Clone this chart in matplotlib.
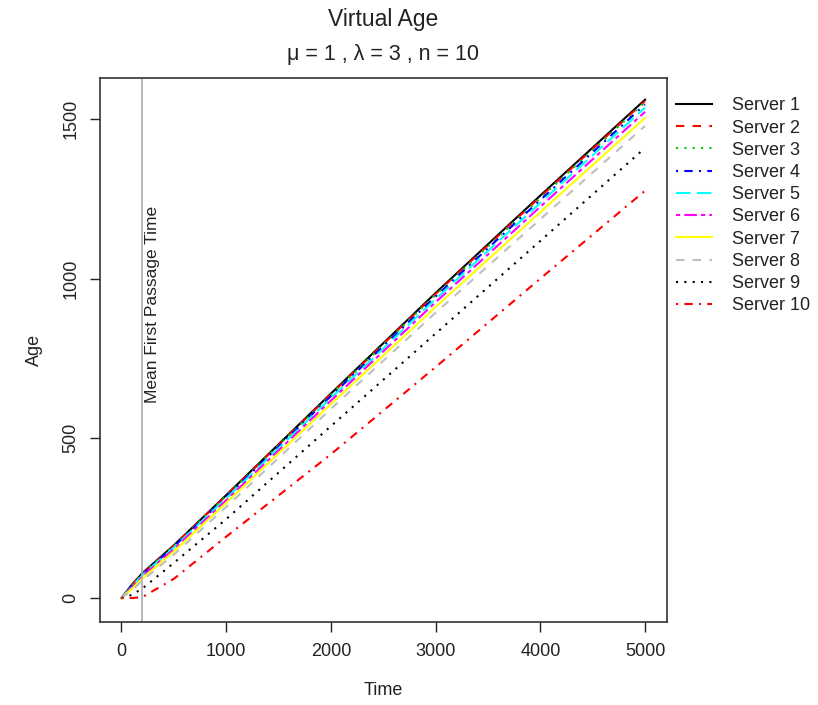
import matplotlib.pyplot as plt
import numpy as np

plt.rcParams['font.family'] = ['Liberation Sans', 'DejaVu Sans']

# values
time = [0, 100, 200, 500, 1000, 2000, 3000, 4000, 5000]
age_s1 = [0, 42, 78, 165, 322, 640, 955, 1260, 1560]
age_s2 = [0, 41, 77, 164, 321, 638, 952, 1256, 1556]
age_s3 = [0, 40, 76, 163, 319, 636, 949, 1252, 1552]
age_s4 = [0, 38, 74, 161, 316, 632, 944, 1246, 1545]
age_s5 = [0, 36, 72, 158, 312, 626, 936, 1237, 1535]
age_s6 = [0, 33, 68, 153, 306, 618, 926, 1225, 1522]
age_s7 = [0, 29, 62, 146, 298, 607, 911, 1208, 1503]
age_s8 = [0, 24, 55, 136, 285, 592, 893, 1186, 1478]
age_s9 = [0, 10, 30, 110, 247, 538, 828, 1118, 1409]
age_s10 = [0, 0, 3, 60, 192, 450, 723, 1000, 1275]
mean_first_passage = 200

servers = ["Server %d" % i for i in range(1, 11)]
ages = [age_s1, age_s2, age_s3, age_s4, age_s5, age_s6, age_s7, age_s8, age_s9, age_s10]

# R default palette and lty cycle
cols = ["black", "#FF0000", "#00CD00", "#0000FF", "#00FFFF", "#FF00FF",
        "#FFFF00", "#BEBEBE", "black", "#FF0000"]
ltys = ["-", (0, (4, 4)), (0, (1, 3)), (0, (1, 3, 4, 3)), (0, (7, 3)),
        (0, (2, 2, 6, 2)), "-", (0, (4, 4)), (0, (1, 3)), (0, (1, 3, 4, 3))]

fig = plt.figure(figsize=(8.18, 7.05), dpi=100)
ax = fig.add_axes([0.1222, 0.1177, 0.6926, 0.7717])

for a, c, ls, lab in zip(ages, cols, ltys, servers):
    ax.plot(time, a, color=c, linestyle=ls, lw=1.5, label=lab)

ax.axvline(mean_first_passage, color="#aaaaaa", lw=1.2)
ax.text(mean_first_passage + 100, 918, "Mean First Passage Time", rotation=90,
        ha="center", va="center", fontsize=12.5, color="#222222")

ax.set_xlim(-205, 5205)
ax.set_ylim(-75, 1628)
ax.set_xticks([0, 1000, 2000, 3000, 4000, 5000])
ax.set_yticks([0, 500, 1000, 1500])
ax.tick_params(labelsize=13, length=7, width=1, colors="#222222", pad=8)
for lbl in ax.get_yticklabels():
    lbl.set_rotation(90)
    lbl.set_va("center")
for sp in ax.spines.values():
    sp.set_linewidth(1.2)
    sp.set_color("#333333")

ax.set_xlabel("Time", fontsize=13, labelpad=16, color="#222222")
ax.set_ylabel("Age", fontsize=13, labelpad=14, color="#222222")

fig.text(0.4683, 0.972, "Virtual Age", ha="center", va="center", fontsize=16.5, color="#222222")
fig.text(0.4683, 0.923, "μ = 1 , λ = 3 , n = 10", ha="center", va="center",
         fontsize=15.5, color="#222222")

leg = fig.legend(loc="upper left", bbox_to_anchor=(0.826, 0.862), frameon=False,
                 borderpad=0, borderaxespad=0, fontsize=13, handlelength=2.0,
                 handletextpad=1.1, labelspacing=0.29)
for t in leg.get_texts():
    t.set_color("#222222")

fig.savefig("out.png", dpi=100)
